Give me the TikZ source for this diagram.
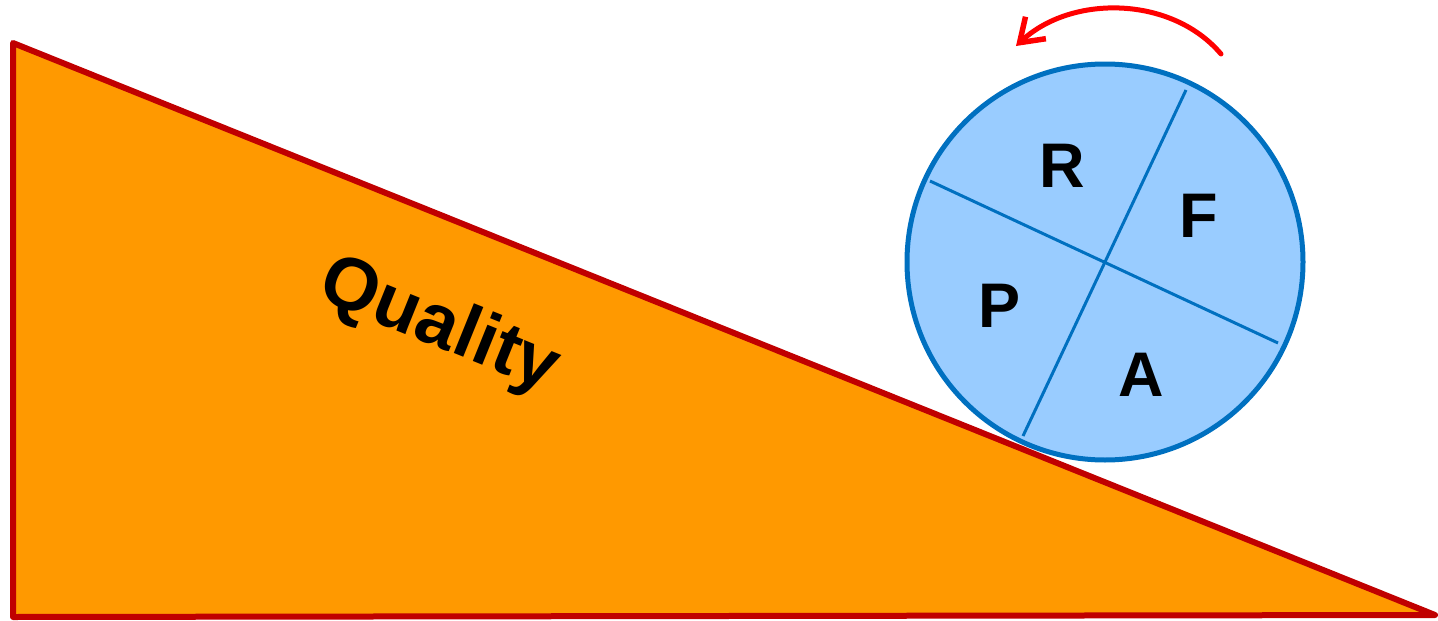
\documentclass[tikz,border=0pt]{standalone}
\usepackage{fontspec}
\setmainfont{Liberation Sans}
\usetikzlibrary{arrows.meta,calc}
\definecolor{wedgefill}{HTML}{FF9900}
\definecolor{wedgeline}{HTML}{C00000}
\definecolor{wheelfill}{HTML}{99CCFF}
\definecolor{wheelline}{HTML}{0070C0}
\definecolor{arrowred}{HTML}{FF0000}
\tikzset{
  wedge/.style={fill=wedgefill,draw=wedgeline,line width=6pt,line join=round},
  wheel/.style={circle,fill=wheelfill,draw=wheelline,line width=5pt,minimum size=396pt,inner sep=0pt},
  spoke/.style={draw=wheelline,line width=3pt},
  letter/.style={font=\fontsize{63}{65}\selectfont\bfseries,inner sep=0pt},
  turn/.style={draw=arrowred,line width=5pt,line cap=round,-{Straight Barb[length=22pt,width=30pt,line width=5.5pt]}}
}
\begin{document}
\begin{tikzpicture}[x=1pt,y=-1pt]
\useasboundingbox (0,0) rectangle (1438,621);
\coordinate (top) at (13,43);
\coordinate (bl) at (13,617);
\coordinate (br) at (1435,615);
\draw[wedge] (top) -- (br) -- (bl) -- cycle;
\node[font=\fontsize{74}{76}\selectfont\bfseries,rotate=-22] (q) at (439,327) {Quality};
\node[wheel] (w) at (1105,262) {};
\coordinate (s1a) at (930,181);
\coordinate (s1b) at (1278,343);
\coordinate (s2a) at (1186,90);
\coordinate (s2b) at (1023,436);
\draw[spoke] (s1a) -- (s1b);
\draw[spoke] (s2a) -- (s2b);
\node[letter] (r) at (1062,166) {R};
\node[letter] (f) at (1199,216) {F};
\node[letter] (p) at (999,306) {P};
\node[letter] (a) at (1141,375) {A};
\coordinate (as) at (1221,54);
\coordinate (ae) at (1016,46);
\draw[turn] (as) .. controls (1172,-4) and (1072,-6) .. (ae);
\end{tikzpicture}
\end{document}
